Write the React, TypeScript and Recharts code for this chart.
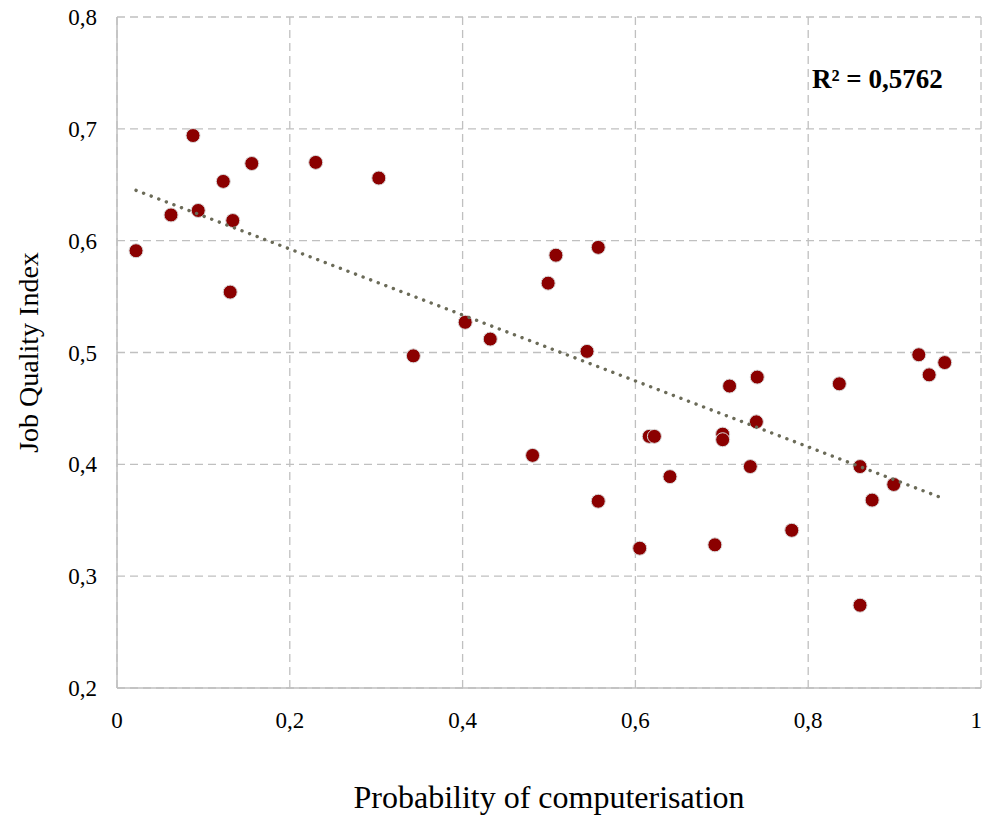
import React from "react";
import {
  CartesianGrid,
  Scatter,
  ScatterChart,
  XAxis,
  YAxis,
} from "recharts";

// probability of computerisation per occupation
const probability = [
  0.022, 0.0625, 0.088, 0.094, 0.123, 0.131, 0.134, 0.156, 0.23, 0.303,
  0.343, 0.403, 0.432, 0.481, 0.499, 0.508, 0.544, 0.557, 0.557, 0.605,
  0.616, 0.622, 0.64, 0.692, 0.701, 0.701, 0.709, 0.733, 0.74, 0.741,
  0.781, 0.836, 0.86, 0.86, 0.874, 0.899, 0.928, 0.94, 0.958,
];

// job quality index, same order
const jobQuality = [
  0.591, 0.623, 0.694, 0.627, 0.653, 0.554, 0.618, 0.669, 0.67, 0.656,
  0.497, 0.527, 0.512, 0.408, 0.562, 0.587, 0.501, 0.367, 0.594, 0.325,
  0.425, 0.425, 0.389, 0.328, 0.427, 0.422, 0.47, 0.398, 0.438, 0.478,
  0.341, 0.472, 0.398, 0.274, 0.368, 0.382, 0.498, 0.48, 0.491,
];

// linear trend end points
const trendX = [0.022, 0.958];
const trendY = [0.645, 0.369];

const xTicks = [0, 0.2, 0.4, 0.6, 0.8, 1];
const yTicks = [0.2, 0.3, 0.4, 0.5, 0.6, 0.7, 0.8];

const points = probability.map((x, i) => ({ x, y: jobQuality[i] }));
const trend = trendX.map((x, i) => ({ x, y: trendY[i] }));

const FONT = '"Liberation Serif", "DejaVu Serif", serif';
const fmt = (v: number) => String(v).replace(".", ",");

const Dot = (props: any) => (
  <circle cx={props.cx} cy={props.cy} r={7} fill="#8B0000" stroke="#d9d9d9" strokeWidth={1} />
);

export default function App() {
  return (
    <div style={{ position: "absolute", left: 0, top: 0, width: 982, height: 816, background: "#fff" }}>
      <ScatterChart
        width={982}
        height={816}
        margin={{ top: 17, right: 1, left: 0, bottom: 0 }}
      >
        <CartesianGrid stroke="#c0c0c0" strokeDasharray="8 5" strokeWidth={1.3} />
        <XAxis
          type="number"
          dataKey="x"
          domain={[0, 1]}
          ticks={xTicks}
          tickFormatter={fmt}
          height={128}
          tickLine={false}
          tickSize={0}
          tickMargin={24}
          stroke="#bfbfbf"
          strokeWidth={1.5}
          tick={{ fill: "#000", fontSize: 23, fontFamily: FONT }}
          label={{
            value: "Probability  of computerisation",
            position: "insideBottom",
            offset: 8,
            fill: "#000",
            fontSize: 32,
            fontFamily: FONT,
          }}
        />
        <YAxis
          type="number"
          dataKey="y"
          domain={[0.2, 0.8]}
          ticks={yTicks}
          tickFormatter={fmt}
          width={117}
          tickLine={false}
          tickSize={0}
          tickMargin={20}
          stroke="#bfbfbf"
          strokeWidth={1.5}
          tick={{ fill: "#000", fontSize: 23, fontFamily: FONT }}
          label={{
            value: "Job  Quality Index",
            angle: -90,
            position: "insideLeft",
            offset: 28,
            style: { textAnchor: "middle" },
            fill: "#000",
            fontSize: 28,
            fontFamily: FONT,
          }}
        />
        <Scatter data={points} shape={Dot} isAnimationActive={false} />
        <Scatter
          data={trend}
          isAnimationActive={false}
          shape={() => <g />}
          line={{
            stroke: "#6b6b58",
            strokeWidth: 3.4,
            strokeDasharray: "0.1 8",
            strokeLinecap: "round",
          }}
        />
      </ScatterChart>
      <div
        style={{
          position: "absolute",
          left: 812,
          top: 64,
          fontFamily: FONT,
          fontWeight: "bold",
          fontSize: 27,
          color: "#000",
        }}
      >
        R² = 0,5762
      </div>
    </div>
  );
}
